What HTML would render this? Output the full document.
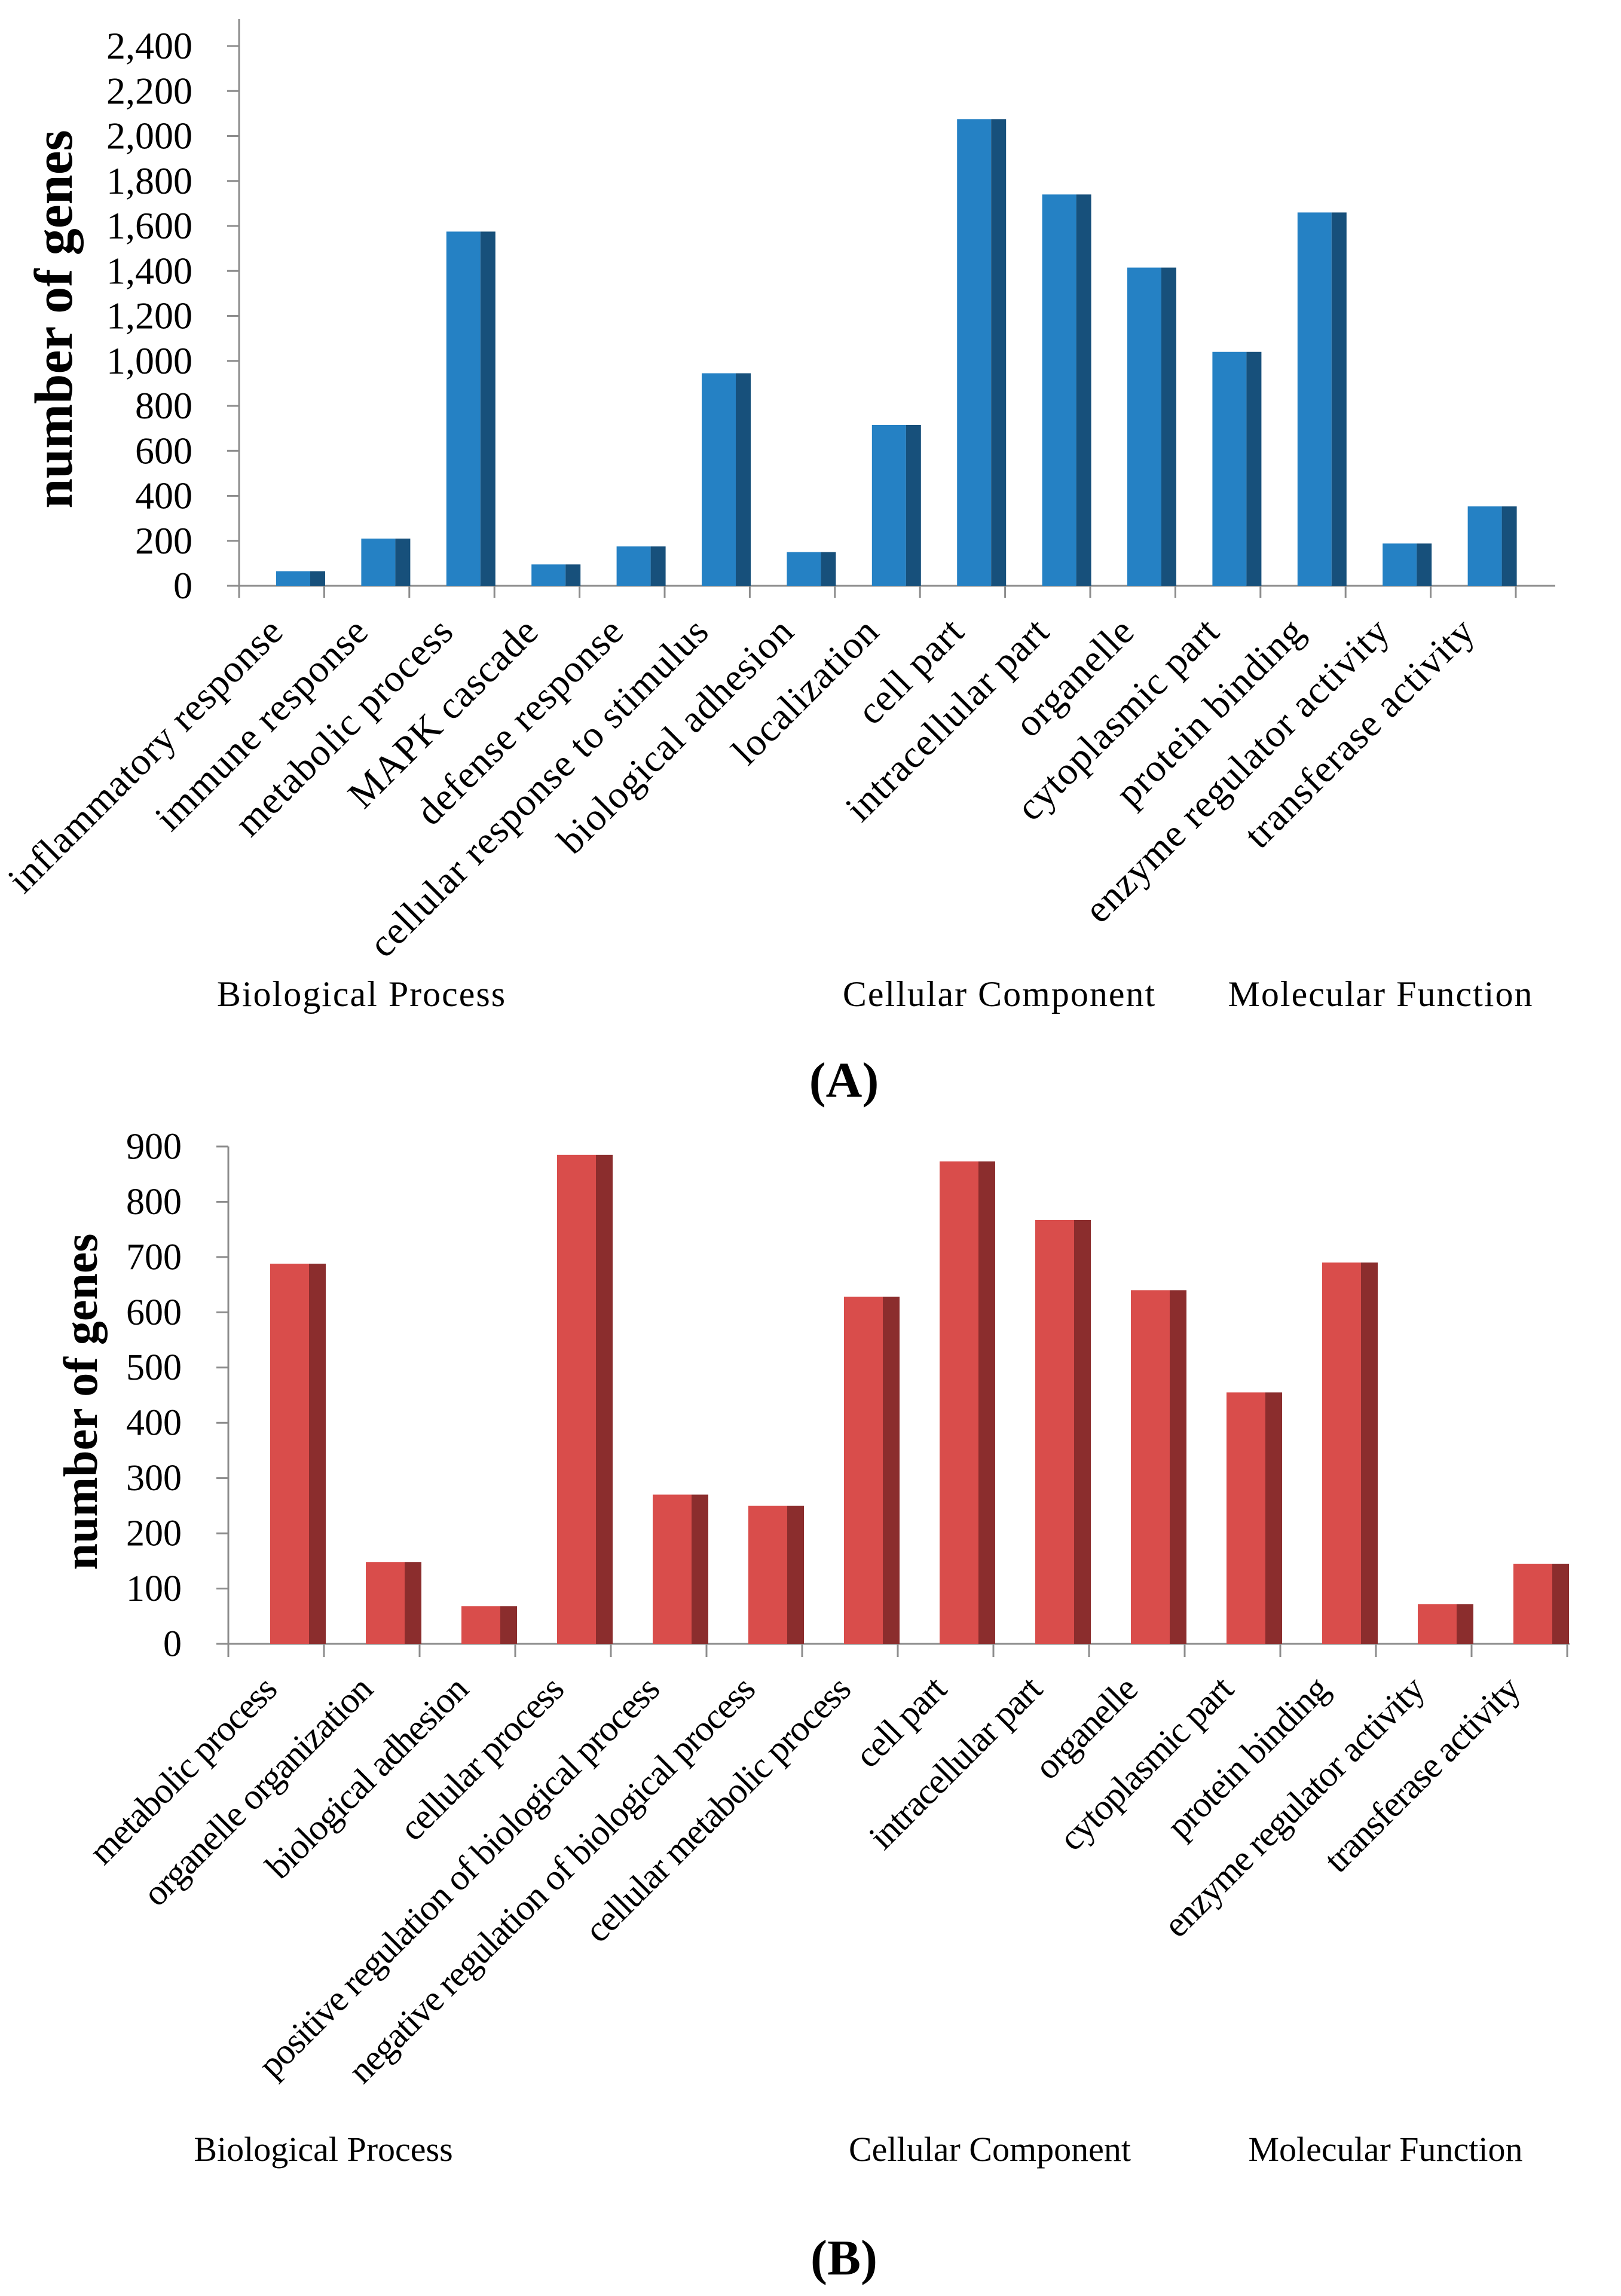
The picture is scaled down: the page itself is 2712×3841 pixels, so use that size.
<!DOCTYPE html>
<html><head><meta charset="utf-8"><style>
html,body{margin:0;padding:0;background:#fff;}
svg{display:block;font-family:"Liberation Serif",serif;}
</style></head><body>
<svg id="fig" width="2712" height="3841" viewBox="0 0 2712 3841" xmlns="http://www.w3.org/2000/svg">
<g id="chartA"></g>
<g id="chartB"></g>
<text x="1412" y="1835" font-size="84" font-weight="bold" text-anchor="middle">(A)</text>
<text x="1412" y="3805" font-size="84" font-weight="bold" text-anchor="middle">(B)</text>
</svg>
<script>
const catsA = ["inflammatory response","immune response","metabolic process","MAPK cascade","defense response","cellular response to stimulus","biological adhesion","localization","cell part","intracellular part","organelle","cytoplasmic part","protein binding","enzyme regulator activity","transferase activity"];
const valsA = [65,210,1575,95,175,945,150,715,2075,1740,1415,1040,1660,188,353];
const ticksA = [0,200,400,600,800,1000,1200,1400,1600,1800,2000,2200,2400];
const tickLabelsA = ["0","200","400","600","800","1,000","1,200","1,400","1,600","1,800","2,000","2,200","2,400"];
const catsB = ["metabolic process","organelle organization","biological adhesion","cellular process","positive regulation of biological process","negative regulation of biological process","cellular metabolic process","cell part","intracellular part","organelle","cytoplasmic part","protein binding","enzyme regulator activity","transferase activity"];
const valsB = [688,148,68,885,270,250,628,873,767,640,455,690,72,145];
const ticksB = [0,100,200,300,400,500,600,700,800,900];
const tickLabelsB = ["0","100","200","300","400","500","600","700","800","900"];
const groupsA = ["Biological Process","Cellular Component","Molecular Function"];
const groupsB = ["Biological Process","Cellular Component","Molecular Function"];

const NS="http://www.w3.org/2000/svg";
function mk(parent,tag,attrs,text){const e=document.createElementNS(NS,tag);for(const k in attrs)e.setAttribute(k,attrs[k]);if(text!==undefined)e.textContent=text;parent.appendChild(e);return e;}

function drawChart(g,cfg,cats,vals,ticks,tickLabels,groups){
  const yScale=v=>cfg.y0-(v-cfg.vmin)*(cfg.y0-cfg.yTop)/(cfg.vmax-cfg.vmin);
  const xBand=i=>cfg.x0+i*cfg.bw;
  const ya=mk(g,'line',{x1:cfg.x0,y1:cfg.yAxisTop,x2:cfg.x0,y2:cfg.y0+cfg.tickLen,stroke:'#8c8c8c','stroke-width':3});
  
  
  const xa=mk(g,'line',{x1:cfg.x0-20,y1:cfg.y0,x2:xBand(cats.length)+cfg.extra,y2:cfg.y0,stroke:'#8c8c8c','stroke-width':3});
  
  
  ticks.forEach((t,i)=>{
    const y=yScale(t);
    const tl=mk(g,'line',{x1:cfg.x0-20,y1:y,x2:cfg.x0,y2:y,stroke:'#8c8c8c','stroke-width':3});
    
    
    const tx=mk(g,'text',{x:cfg.x0-78,y:y+cfg.tfs*0.33,'font-size':cfg.tfs,'text-anchor':'end'},tickLabels[i]);
    
    
  });
  for(let i=1;i<=cats.length;i++){
    const tl=mk(g,'line',{x1:xBand(i),y1:cfg.y0,x2:xBand(i),y2:cfg.y0+cfg.tickLen,stroke:'#8c8c8c','stroke-width':3});
    
    
  }
  cats.forEach((c,i)=>{
    const v=vals[i];const top=yScale(v);const bx=xBand(i)+cfg.barOff;
    const f=mk(g,'rect',{x:bx,y:top,width:cfg.front,height:cfg.y0-top,fill:cfg.c1});
    
    
    const s=mk(g,'rect',{x:bx+cfg.front,y:top,width:cfg.side,height:cfg.y0-top,fill:cfg.c2});
    
    
    const cx=xBand(i)+cfg.bw/2+cfg.lblDx, cy=cfg.y0+cfg.lblDy;
    const t=mk(g,'text',{x:cx,y:cy,'font-size':cfg.lfs,'text-anchor':'end','letter-spacing':cfg.ls,transform:`rotate(-45 ${cx} ${cy})`},c);
    
    
  });
  const cxT=cfg.titleX, cyT=cfg.titleY;
  const tt=mk(g,'text',{x:cxT,y:cyT,'font-size':cfg.titleFs,'font-weight':'bold','text-anchor':'middle',transform:`rotate(-90 ${cxT} ${cyT})`},'number of genes');
  
  
  groups.forEach((gname,i)=>{
    const t=mk(g,'text',{x:cfg.groupX[i],y:cfg.groupY,'font-size':cfg.gfs,'text-anchor':'middle','letter-spacing':cfg.gls},gname);
    
    
  });
}

drawChart(document.getElementById('chartA'),{
  x0:400,bw:142.4,y0:980,yTop:77,vmin:0,vmax:2400,yAxisTop:32,tickLen:20,extra:66,
  barOff:62,front:57,side:25,c1:'#2581c4',c2:'#17507b',tfs:64,lfs:65,ls:1,lblDx:6,lblDy:80,
  titleX:120,titleY:534,titleFs:90,groupX:[605,1672,2310],groupY:1683,gfs:60,gls:2
},catsA,valsA,ticksA,tickLabelsA,groupsA);

drawChart(document.getElementById('chartB'),{
  x0:382,bw:160,y0:2750,yTop:1918,vmin:0,vmax:900,yAxisTop:1918,tickLen:22,extra:4,
  barOff:70,front:65,side:28,c1:'#d94d4b',c2:'#8b2d2d',tfs:62,lfs:61,ls:-1.5,lblDx:4,lblDy:80,
  titleX:162,titleY:2345,titleFs:80,groupX:[541,1656,2318],groupY:3615,gfs:58,gls:0
},catsB,valsB,ticksB,tickLabelsB,groupsB);
</script>
</body></html>
